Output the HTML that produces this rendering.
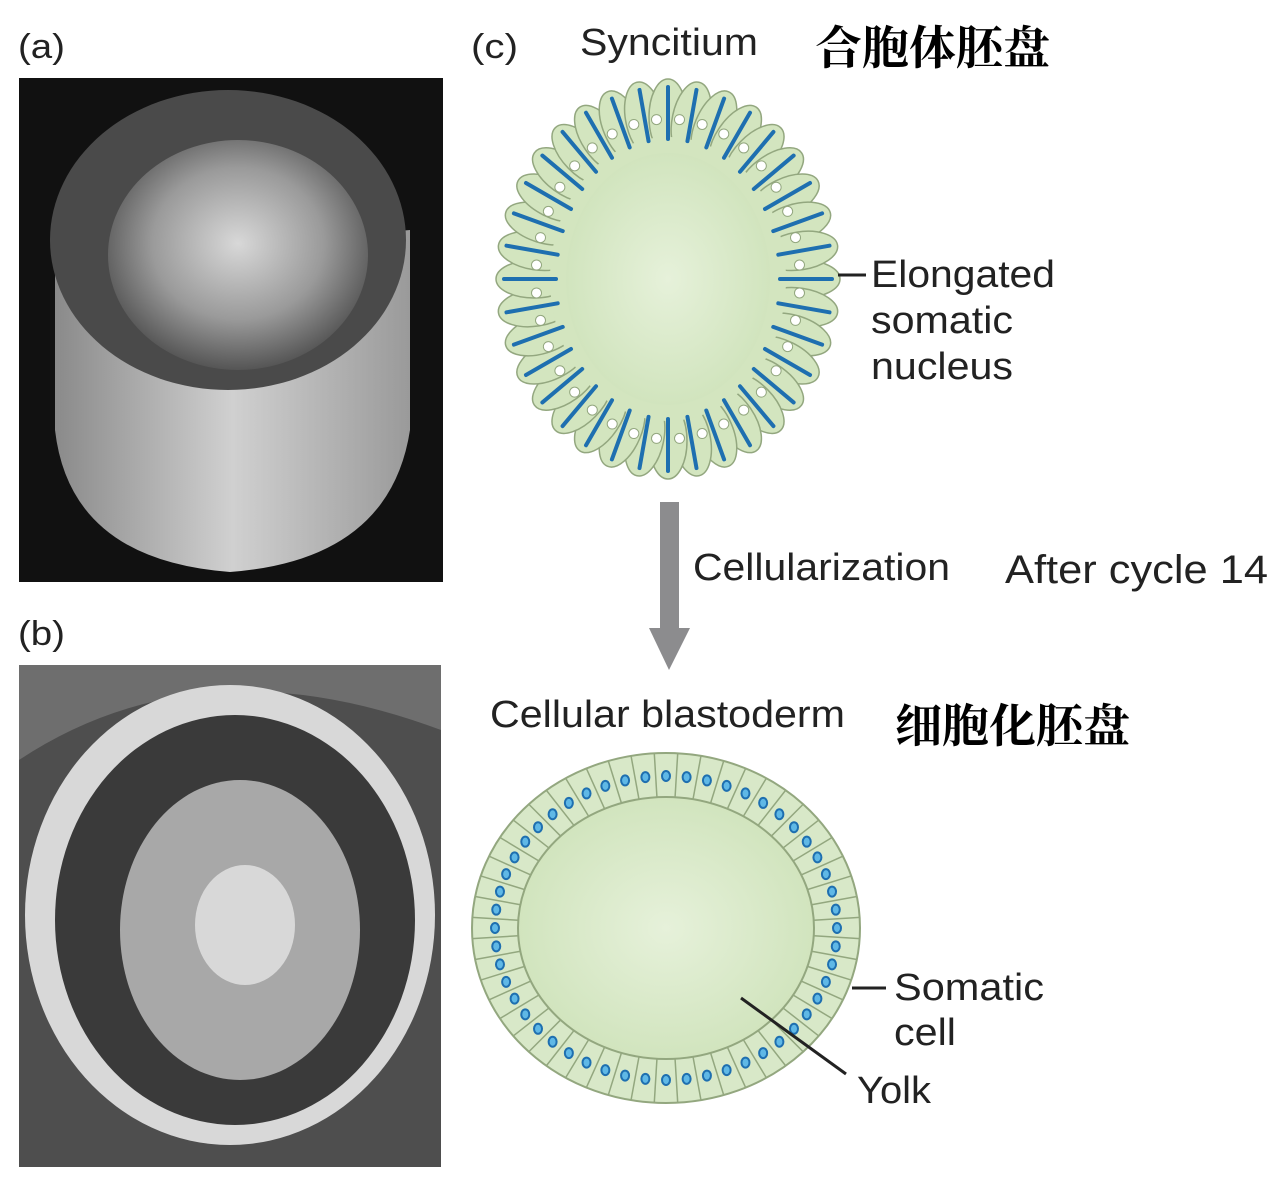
<!DOCTYPE html>
<html><head><meta charset="utf-8"><style>
body{margin:0;background:#fff;}
svg{display:block;}
text{font-family:"Liberation Sans",sans-serif;fill:#222;}
.cjk{font-family:"Liberation Serif","Noto Serif CJK SC",serif;font-weight:bold;fill:#000;}
</style></head><body>
<svg id="fig" width="1288" height="1191" viewBox="0 0 1288 1191">
<defs>
<radialGradient id="yolk" cx="50%" cy="50%" r="55%"><stop offset="0" stop-color="#e6f1da"/><stop offset="1" stop-color="#cfe3bb"/></radialGradient>
<radialGradient id="inA" cx="50%" cy="45%" r="55%"><stop offset="0" stop-color="#d8d8d8"/><stop offset="0.6" stop-color="#9a9a9a"/><stop offset="1" stop-color="#555"/></radialGradient>
<linearGradient id="bodyA" x1="0" x2="1"><stop offset="0" stop-color="#8a8a8a"/><stop offset="0.5" stop-color="#d0d0d0"/><stop offset="1" stop-color="#9a9a9a"/></linearGradient>
</defs>
<g>
<rect x="19" y="78" width="424" height="504" fill="#111"/>
<path d="M55 260 L55 430 Q70 560 230 572 Q390 560 410 430 L410 230 Z" fill="url(#bodyA)"/>
<ellipse cx="228" cy="240" rx="178" ry="150" fill="#4a4a4a"/>
<ellipse cx="238" cy="255" rx="130" ry="115" fill="url(#inA)"/>
</g>
<g>
<rect x="19" y="665" width="422" height="502" fill="#6e6e6e"/>
<path d="M19 760 Q200 640 441 730 L441 1167 L19 1167 Z" fill="#4e4e4e"/>
<ellipse cx="230" cy="915" rx="205" ry="230" fill="#d8d8d8"/>
<ellipse cx="235" cy="920" rx="180" ry="205" fill="#3a3a3a"/>
<ellipse cx="240" cy="930" rx="120" ry="150" fill="#a8a8a8"/>
<ellipse cx="245" cy="925" rx="50" ry="60" fill="#d8d8d8"/>
</g>
<g id="sync"></g>
<g id="blast"></g>
<g>
<rect x="660" y="502" width="19" height="128" fill="#8c8c8e"/>
<polygon points="649,628 690,628 669,670" fill="#8c8c8e"/>
</g>
<line x1="838" y1="275" x2="866" y2="275" stroke="#222" stroke-width="3"/>
<line x1="852" y1="988" x2="886" y2="988" stroke="#222" stroke-width="3"/>
<line x1="741" y1="998" x2="846" y2="1074" stroke="#222" stroke-width="3"/>
<text x="18" y="58" font-size="34" textLength="47" lengthAdjust="spacingAndGlyphs">(a)</text>
<text x="18" y="645" font-size="34" textLength="47" lengthAdjust="spacingAndGlyphs">(b)</text>
<text x="471" y="58" font-size="34" textLength="47" lengthAdjust="spacingAndGlyphs">(c)</text>
<text x="580" y="55" font-size="38" textLength="178" lengthAdjust="spacingAndGlyphs">Syncitium</text>
<text x="815" y="64" font-size="46" textLength="235" lengthAdjust="spacingAndGlyphs" class="cjk">合胞体胚盘</text>
<text x="871" y="287" font-size="38" textLength="184" lengthAdjust="spacingAndGlyphs">Elongated</text>
<text x="871" y="333" font-size="38" textLength="142" lengthAdjust="spacingAndGlyphs">somatic</text>
<text x="871" y="379" font-size="38" textLength="142" lengthAdjust="spacingAndGlyphs">nucleus</text>
<text x="693" y="580" font-size="38" textLength="257" lengthAdjust="spacingAndGlyphs">Cellularization</text>
<text x="1005" y="583" font-size="40" textLength="263" lengthAdjust="spacingAndGlyphs" fill="#000">After cycle 14</text>
<text x="490" y="727" font-size="38" textLength="355" lengthAdjust="spacingAndGlyphs">Cellular blastoderm</text>
<text x="895" y="742" font-size="46" textLength="235" lengthAdjust="spacingAndGlyphs" class="cjk">细胞化胚盘</text>
<text x="894" y="1000" font-size="38" textLength="150" lengthAdjust="spacingAndGlyphs">Somatic</text>
<text x="894" y="1045" font-size="38" textLength="62" lengthAdjust="spacingAndGlyphs">cell</text>
<text x="857" y="1103" font-size="38" textLength="74" lengthAdjust="spacingAndGlyphs">Yolk</text>
</svg>
<script>
const NS="http://www.w3.org/2000/svg";
function mk(p,t,a){const e=document.createElementNS(NS,t);for(const k in a)e.setAttribute(k,a[k]);p.appendChild(e);return e;}
const s=document.getElementById('sync');
const cx=668,cy=279,RX=172,RY=200,N=36;
for(let i=0;i<N;i++){const a=i/N*2*Math.PI;
 const x=cx+(RX-38)*Math.cos(a),y=cy+(RY-38)*Math.sin(a);
 const e=mk(s,'ellipse',{cx:x,cy:y,rx:19,ry:38,fill:'#d3e5bf',stroke:'#93a77f','stroke-width':1.5,transform:`rotate(${Math.atan2(Math.sin(a)*RX,Math.cos(a)*RY)*180/Math.PI+90} ${x} ${y})`});
 
 }
mk(s,'ellipse',{cx:cx,cy:cy,rx:118,ry:142,fill:'#d3e5bf'});
for(let i=0;i<N;i++){const a=(i+0.5)/N*2*Math.PI;
 const e=mk(s,'ellipse',{cx:cx+(RX-40)*Math.cos(a),cy:cy+(RY-40)*Math.sin(a),rx:5,ry:5,fill:'#fff',stroke:'#93a77f','stroke-width':1});
 
 }
mk(s,'ellipse',{cx:cx,cy:cy,rx:102,ry:126,fill:'url(#yolk)'});
for(let i=0;i<N;i++){const a=i/N*2*Math.PI;const c=Math.cos(a),n=Math.sin(a);
 const l=mk(s,'line',{x1:cx+(RX-8)*c,y1:cy+(RY-8)*n,x2:cx+(RX-60)*c,y2:cy+(RY-60)*n,stroke:'#1e6fb0','stroke-width':4,'stroke-linecap':'round'});
 
 }
const b=document.getElementById('blast');
const bx=666,by=928,BX=194,BY=175,M=52;
mk(b,'ellipse',{cx:bx,cy:by,rx:BX,ry:BY,fill:'#d8e8c8',stroke:'#93a77f','stroke-width':2});
for(let i=0;i<M;i++){const a=i/M*2*Math.PI,c=Math.cos(a),n=Math.sin(a);
 const l=mk(b,'line',{x1:bx+(BX-46)*Math.cos(a+Math.PI/M),y1:by+(BY-46)*Math.sin(a+Math.PI/M),x2:bx+BX*Math.cos(a+Math.PI/M),y2:by+BY*Math.sin(a+Math.PI/M),stroke:'#93a77f','stroke-width':1.5});
 
 
 const d=mk(b,'ellipse',{cx:bx+(BX-23)*c,cy:by+(BY-23)*n,rx:4,ry:5,fill:'#5fb8e6',stroke:'#1e6fb0','stroke-width':2});
 
 }
mk(b,'ellipse',{cx:bx,cy:by,rx:148,ry:131,fill:'url(#yolk)',stroke:'#93a77f','stroke-width':2});
</script>
</body></html>
